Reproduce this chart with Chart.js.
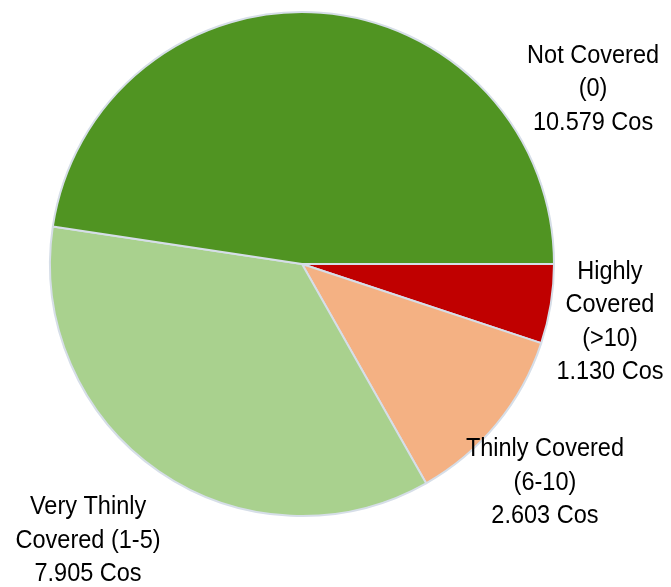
<!DOCTYPE html>
<html>
<head>
<meta charset="utf-8">
<script src="https://cdn.jsdelivr.net/npm/chart.js@4/dist/chart.umd.min.js"></script>
<style>
  html, body { margin: 0; padding: 0; background: #ffffff; }
  #wrap { width: 671px; height: 587px; }
</style>
</head>
<body>
<div id="wrap"><canvas id="pie" width="671" height="587"></canvas></div>
<script>
// Coverage categories, drawn clockwise starting at 3 o'clock
const categories = [
  ["Highly", "Covered", "(>10)"],
  ["Thinly Covered", "(6-10)"],
  ["Very Thinly", "Covered (1-5)"],
  ["Not Covered", "(0)"]
];
const values = [1.130, 2.603, 7.905, 10.579];
const unit = "Cos";
const colors = ["#C00000", "#F4B183", "#A9D18E", "#509422"];

// Label anchors, in units of the pie radius from its centre
const labelAnchors = [
  [1.222, 0.230],
  [0.964, 0.869],
  [-0.849, 1.099],
  [1.155, -0.694]
];

const fmt = v => v.toFixed(3) + " " + unit;

// Slightly condensed label text
const sliceLabels = {
  id: "sliceLabels",
  afterDatasetsDraw(chart) {
    const ctx = chart.ctx;
    const meta = chart.getDatasetMeta(0);
    const lineH = 33.5;
    const squeeze = 0.94;
    meta.data.forEach((arc, i) => {
      const r = arc.outerRadius;
      const lines = categories[i].concat([fmt(values[i])]);
      const cx = arc.x + labelAnchors[i][0] * r;
      const cy = arc.y + labelAnchors[i][1] * r;
      const top = cy - (lines.length - 1) * lineH / 2;
      lines.forEach((t, k) => {
        ctx.save();
        ctx.font = "25px 'Liberation Sans', Arial, sans-serif";
        ctx.fillStyle = "#000000";
        ctx.textAlign = "center";
        ctx.textBaseline = "middle";
        ctx.translate(cx, top + k * lineH);
        ctx.scale(squeeze, 1);
        ctx.fillText(t, 0, 0);
        ctx.restore();
      });
    });
  }
};

new Chart(document.getElementById("pie"), {
  type: "pie",
  data: {
    labels: categories.map(c => c.join(" ")),
    datasets: [{
      data: values,
      backgroundColor: colors,
      borderColor: "#D6DEE8",
      borderWidth: 2,
      radius: 252
    }]
  },
  options: {
    responsive: false,
    animation: false,
    rotation: 90,
    layout: { padding: { left: 0, right: 67, top: 0, bottom: 59 } },
    plugins: {
      legend: { display: false },
      tooltip: { enabled: false }
    }
  },
  plugins: [sliceLabels]
});
</script>
</body>
</html>
